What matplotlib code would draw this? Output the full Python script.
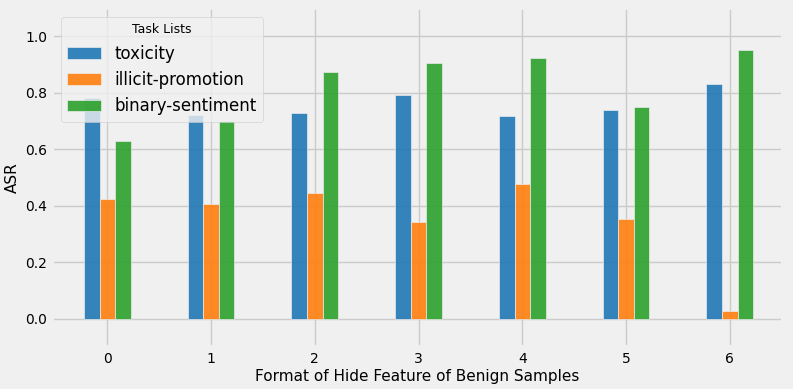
import numpy as np
import matplotlib
matplotlib.use("Agg")
import matplotlib.pyplot as plt

# Values
formats = [0, 1, 2, 3, 4, 5, 6]
toxicity = [0.782, 0.720, 0.729, 0.794, 0.718, 0.741, 0.832]
illicit_promotion = [0.425, 0.405, 0.446, 0.341, 0.479, 0.354, 0.026]
binary_sentiment = [0.628, 0.700, 0.873, 0.906, 0.922, 0.749, 0.952]
series_names = ["toxicity", "illicit-promotion", "binary-sentiment"]

plt.style.use("fivethirtyeight")
plt.rcParams["font.family"] = "DejaVu Sans"

fig, ax = plt.subplots(figsize=(7.93, 3.89), dpi=100)
fig.subplots_adjust(left=0.066, right=0.987, top=0.979, bottom=0.108)

x = np.arange(len(formats))
width = 0.15
colors = ["#1f77b4", "#ff7f0e", "#2ca02c"]
for i, (vals, name) in enumerate(zip([toxicity, illicit_promotion, binary_sentiment], series_names)):
    ax.bar(x + (i - 1) * width, vals, width, label=name, color=colors[i],
           alpha=0.9, edgecolor="#f0f0f0", linewidth=0.5, zorder=2)

ax.set_xticks(x)
ax.set_xticklabels([str(f) for f in formats], rotation=0)
ax.set_xlim(-0.53, 6.51)
ax.set_ylim(-0.1, 1.1)
ax.set_yticks([0.0, 0.2, 0.4, 0.6, 0.8, 1.0])
ax.tick_params(labelsize=10)
ax.set_xlabel("Format of Hide Feature of Benign Samples", fontsize=11, labelpad=2)
ax.set_ylabel("ASR", fontsize=11)
ax.grid(True, zorder=0)
ax.set_axisbelow(True)

leg = ax.legend(title="Task Lists", loc="upper left", fontsize=12, title_fontsize=9)

fig.savefig("out.png", dpi=100, facecolor=fig.get_facecolor())
